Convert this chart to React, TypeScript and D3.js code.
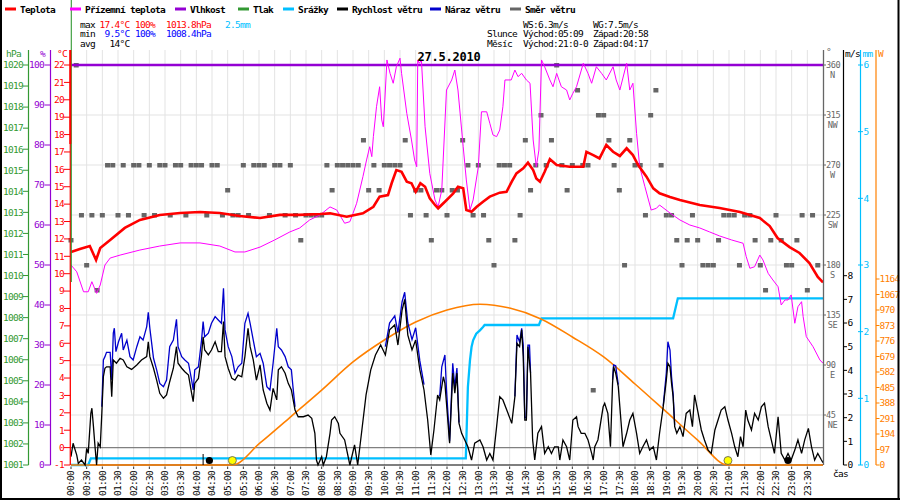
import React from "react";
import * as d3 from "d3";

const FONT = "'DejaVu Sans Mono', 'Liberation Mono', monospace";

// ---------------- data ----------------
const legendLabels = ["Teplota", "Přízemní teplota", "Vlhkost", "Tlak", "Srážky", "Rychlost větru", "Náraz větru", "Směr větru"];
const legendColors = ["#ff0000", "#ff00ff", "#9400d3", "#339933", "#00bfff", "#000000", "#0000cc", "#666666"];

const title = "27.5.2010";
const statRowLabels = ["max", "min", "avg"];
const statMax = ["17.4°C", "100%", "1013.8hPa", "2.5mm"];
const statMin = ["9.5°C", "100%", "1008.4hPa"];
const statAvg = ["14°C"];
const windInfo = ["WS:6.3m/s", "WG:7.5m/s"];
const sunInfo = ["Slunce", "Východ:05:09", "Západ:20:58"];
const moonInfo = ["Měsíc", "Východ:21:0-0", "Západ:04:17"];

// temperature [minute of day, °C]
const tempSeries: [number, number][] = [
  [0, 11.25], [17, 11.42], [36, 11.59], [48, 10.79], [56, 11.48], [75, 11.94], [103, 12.63], [132, 13.09], [170, 13.38], [209, 13.49],
  [247, 13.55], [285, 13.49], [323, 13.32], [362, 13.2], [400, 13.38], [438, 13.38], [477, 13.43], [496, 13.47], [528, 13.28], [559, 13.47],
  [579, 13.85], [591, 14.43], [607, 14.52], [614, 15.2], [623, 15.96], [633, 15.86], [643, 15.29], [652, 15.2], [660, 14.71], [669, 15.2],
  [678, 15.0], [687, 14.33], [697, 13.95], [703, 13.76], [716, 14.14], [732, 14.62], [741, 15.0], [751, 14.91], [757, 13.66], [767, 13.56],
  [777, 13.85], [789, 14.14], [802, 14.43], [821, 14.66], [834, 14.71], [844, 15.29], [853, 15.77], [866, 16.06], [875, 16.38], [885, 15.96],
  [891, 15.48], [898, 15.29], [907, 15.86], [917, 16.58], [930, 16.25], [955, 16.15], [981, 16.15], [987, 17.01], [1000, 16.82], [1012, 16.63],
  [1025, 17.4], [1038, 17.01], [1051, 16.77], [1064, 17.21], [1076, 16.82], [1086, 16.25], [1102, 15.58], [1115, 14.91], [1127, 14.62], [1147, 14.41],
  [1166, 14.24], [1204, 13.95], [1242, 13.78], [1281, 13.55], [1319, 13.2], [1338, 12.74], [1353, 12.05], [1376, 11.53], [1395, 11.19], [1414, 10.61],
  [1430, 9.81], [1440, 9.5],
];

// ground temperature [minute, °C]
const groundSeries: [number, number][] = [
  [0, 10.5], [11, 10.11], [24, 8.96], [33, 8.96], [40, 9.54], [49, 8.87], [56, 9.35], [65, 10.5], [75, 10.9], [94, 11.07],
  [132, 11.36], [170, 11.59], [209, 11.77], [247, 11.77], [285, 11.59], [314, 11.25], [333, 11.25], [362, 11.53], [390, 11.94], [419, 12.4],
  [438, 12.63], [457, 13.09], [477, 13.38], [496, 13.84], [509, 13.66], [524, 12.9], [534, 12.99], [540, 13.47], [547, 14.05], [559, 15.58],
  [566, 16.54], [572, 17.3], [576, 16.73], [579, 17.88], [585, 19.6], [591, 20.75], [595, 18.84], [598, 18.45], [601, 19.99], [605, 22.29],
  [611, 21.52], [617, 20.95], [623, 21.9], [630, 22.39], [633, 21.52], [643, 19.22], [652, 17.69], [658, 16.54], [662, 16.15], [664, 22.29],
  [667, 22.1], [671, 22.29], [678, 18.45], [687, 15.77], [697, 14.24], [703, 13.85], [710, 14.81], [719, 20.56], [729, 21.14], [735, 21.71],
  [741, 20.56], [751, 17.3], [757, 15.39], [764, 13.66], [770, 14.24], [780, 16.15], [786, 19.31], [796, 19.31], [802, 18.65], [808, 17.98],
  [815, 17.88], [821, 18.26], [827, 19.6], [831, 21.14], [843, 21.14], [850, 21.71], [856, 21.33], [863, 21.52], [872, 21.14], [879, 20.95],
  [885, 17.69], [891, 16.15], [896, 17.11], [901, 22.29], [907, 21.9], [917, 21.14], [923, 20.75], [930, 21.52], [939, 20.75], [949, 20.56],
  [955, 19.99], [961, 20.37], [968, 20.75], [981, 22.1], [990, 21.52], [997, 20.95], [1006, 21.9], [1016, 21.52], [1025, 21.14], [1038, 21.9],
  [1044, 21.14], [1051, 20.56], [1064, 22.1], [1070, 20.56], [1076, 20.95], [1083, 18.07], [1089, 16.15], [1099, 15.0], [1111, 13.66], [1121, 13.76],
  [1127, 13.95], [1147, 13.49], [1166, 13.09], [1185, 12.8], [1204, 12.63], [1223, 12.4], [1242, 12.17], [1265, 11.94], [1287, 11.75], [1293, 10.98],
  [1300, 10.31], [1309, 10.4], [1319, 11.07], [1325, 10.79], [1335, 10.02], [1344, 9.64], [1354, 9.25], [1360, 8.2], [1367, 8.49], [1373, 8.49],
  [1379, 8.78], [1386, 7.15], [1392, 8.1], [1399, 8.39], [1402, 7.53], [1408, 6.38], [1421, 5.8], [1434, 5.04], [1440, 4.85],
];

// humidity [minute, %]
const humiditySeries: [number, number][] = [[0, 100], [360, 100], [720, 100], [1080, 100], [1440, 100]];

// cumulative precipitation [minute, mm]
const rainSeries: [number, number][] = [
  [0, 0], [33, 0], [38, 0.1], [756, 0.1], [757, 0.35], [760, 1.17], [764, 1.57], [767, 1.77], [770, 1.87], [776, 1.97],
  [783, 2.02], [789, 2.07], [792, 2.1], [896, 2.1], [901, 2.2], [1153, 2.2], [1162, 2.5], [1440, 2.5],
];

// sun power [minute, W/m2]
const sunSeries: [number, number][] = [
  [0, 0], [309, 0], [362, 138], [420, 300], [480, 469], [540, 645], [600, 782], [660, 895], [720, 970], [783, 1006],
  [840, 982], [900, 914], [960, 801], [1020, 676], [1080, 507], [1140, 332], [1200, 156], [1258, 0], [1440, 0],
];

// wind speed [minute, m/s]
const windSeries: [number, number][] = [
  [0, 0.35], [4, 0.92], [11, 0.42], [14, 0.07], [20, 0.21], [27, 0], [30, 0.7], [33, 0.49], [38, 2.18], [40, 2.4],
  [43, 1.62], [46, 0.77], [49, 0], [52, 0.92], [56, 0.77], [59, 2.18], [62, 3.73], [65, 4.09], [68, 4.15], [75, 4.15],
  [78, 2.89], [81, 4.44], [87, 4.3], [94, 4.51], [100, 4.44], [107, 4.15], [116, 4.04], [126, 4.23], [135, 4.44], [145, 4.58],
  [148, 5.21], [151, 4.58], [158, 4.09], [164, 3.59], [170, 3.03], [177, 2.82], [183, 2.96], [189, 3.52], [196, 4.09], [202, 5.0],
  [205, 4.3], [212, 4.09], [218, 3.94], [225, 3.8], [231, 3.03], [234, 2.68], [237, 3.45], [244, 3.66], [250, 4.65], [253, 5.42],
  [256, 4.86], [263, 4.65], [269, 4.86], [276, 5.21], [282, 4.79], [288, 4.79], [292, 6.06], [295, 4.58], [301, 4.09], [308, 3.66],
  [314, 3.59], [320, 3.8], [327, 3.73], [333, 4.58], [339, 5.78], [343, 5.0], [349, 4.44], [355, 3.59], [362, 4.23], [368, 3.17],
  [375, 2.61], [381, 2.32], [387, 3.24], [394, 2.75], [397, 4.02], [403, 4.15], [410, 3.88], [416, 3.45], [422, 3.17], [429, 2.32],
  [435, 2.04], [445, 2.04], [454, 2.11], [461, 1.97], [467, 1.34], [470, 0.21], [473, 0], [480, 0.35], [483, 0], [489, 0.35],
  [496, 1.34], [499, 1.9], [505, 2.04], [512, 1.76], [515, 1.34], [524, 1.06], [534, 0], [543, 0.85], [549, 0], [557, 1.48],
  [565, 2.96], [574, 4.02], [583, 4.65], [593, 5.07], [602, 4.65], [610, 5.71], [620, 5.92], [626, 5.07], [634, 6.55], [639, 7.0],
  [645, 5.49], [653, 4.86], [660, 5.28], [668, 4.02], [676, 3.17], [683, 1.9], [689, 0.42], [695, 1.48], [702, 2.96], [706, 2.75],
  [713, 3.73], [716, 3.45], [719, 2.61], [725, 0.92], [731, 3.88], [735, 3.03], [739, 3.88], [743, 1.76], [748, 1.34], [754, 1.06],
  [760, 0.77], [767, 0.21], [773, 0.92], [783, 1.06], [789, 0.77], [796, 0.21], [802, 0.49], [808, 0.21], [815, 1.62], [821, 2.89],
  [827, 2.75], [837, 2.18], [844, 1.76], [850, 2.89], [854, 5.14], [859, 5.0], [863, 5.71], [866, 4.58], [869, 1.9], [872, 1.9],
  [875, 5.0], [880, 3.88], [884, 1.06], [888, 0.21], [894, 1.34], [901, 1.62], [907, 0.49], [914, 0.77], [920, 0.49], [926, 0.77],
  [933, 0.77], [936, 0.21], [942, 1.06], [949, 0.77], [955, 0.21], [961, 1.9], [968, 2.04], [971, 1.62], [977, 1.34], [984, 1.34],
  [990, 1.06], [997, 0.49], [1000, 0.21], [1003, 0.77], [1009, 1.06], [1013, 1.62], [1019, 2.46], [1022, 2.61], [1028, 2.18], [1033, 0.77],
  [1037, 3.45], [1039, 4.15], [1043, 3.88], [1048, 3.31], [1051, 2.46], [1057, 0.77], [1064, 1.34], [1070, 1.9], [1076, 2.18], [1083, 1.34],
  [1089, 0.49], [1095, 0.77], [1102, 1.06], [1108, 0.63], [1115, 0.77], [1121, 0.21], [1127, 1.34], [1134, 2.46], [1140, 3.59], [1143, 4.3],
  [1147, 4.15], [1150, 3.45], [1153, 2.89], [1156, 1.62], [1160, 1.34], [1166, 1.62], [1172, 1.2], [1178, 2.18], [1185, 2.32], [1190, 1.62],
  [1194, 2.96], [1201, 2.18], [1207, 1.48], [1213, 1.06], [1220, 0.63], [1226, 0.49], [1233, 1.48], [1239, 1.9], [1245, 2.32], [1252, 2.46],
  [1258, 1.9], [1265, 1.34], [1271, 0.77], [1277, 0.35], [1282, 1.2], [1287, 0.77], [1292, 2.32], [1296, 1.9], [1303, 1.48], [1309, 2.18],
  [1316, 1.9], [1322, 2.46], [1328, 2.61], [1335, 1.62], [1341, 1.06], [1347, 0.49], [1354, 2.04], [1360, 0.49], [1367, 0.21], [1373, 0.49],
  [1379, 0.21], [1386, 0.63], [1392, 1.06], [1399, 0.49], [1405, 1.06], [1412, 1.55], [1418, 0.77], [1424, 0.21], [1430, 0.49], [1437, 0.21],
  [1440, 0.1],
];

// wind gust [minute, m/s]; null separates segments where gust equals wind
const gustSeries: [number, number | null][] = [
  [59, 2.46], [62, 4.44], [65, 4.58], [68, 4.76], [75, 4.76], [78, 3.59], [81, 5.57], [83, 5.78], [86, 4.79], [91, 5.21],
  [97, 5.57], [100, 4.86], [107, 5.28], [113, 4.58], [119, 4.44], [126, 5.0], [132, 5.42], [138, 5.28], [145, 5.85], [148, 6.45],
  [151, 5.78], [158, 4.51], [164, 4.02], [170, 3.45], [177, 3.31], [183, 3.59], [189, 5.0], [196, 5.28], [202, 6.16], [205, 5.0],
  [212, 4.58], [218, 4.44], [225, 4.3], [231, 3.59], [234, 3.17], [237, 4.02], [244, 4.15], [250, 5.28], [253, 6.06], [256, 5.42],
  [263, 5.57], [269, 5.99], [276, 6.27], [282, 6.13], [288, 5.99], [292, 7.47], [295, 5.71], [301, 5.0], [308, 4.58], [314, 3.88],
  [320, 4.15], [327, 4.3], [333, 5.99], [339, 6.41], [343, 5.99], [349, 5.28], [355, 4.58], [362, 4.72], [368, 4.3], [375, 3.31],
  [381, 3.17], [387, 4.3], [394, 5.78], [397, 5.0], [403, 4.86], [410, 4.58], [416, 4.15], [422, 4.02], [425, 3.31], [429, 2.46],
  [430, null],
  [602, 5.0], [610, 6.0], [620, 6.3], [626, 5.6], [634, 6.9], [639, 7.3], [645, 6.0], [653, 5.3], [660, 5.8], [668, 4.4], [676, 3.4],
  [677, null],
  [706, 2.9], [710, 4.15], [716, 4.65], [719, 3.2], [725, 1.0], [731, 4.3], [735, 3.3], [739, 4.1], [743, 1.8],
  [744, null],
  [850, 2.9], [854, 5.49], [859, 5.2], [863, 5.78], [866, 5.07], [869, 2.0], [872, 2.0], [875, 5.07], [878, 5.07], [880, 3.9],
  [881, null],
  [1037, 3.6], [1039, 4.23], [1043, 4.2], [1048, 3.4],
  [1049, null],
  [1134, 2.5], [1140, 3.9], [1143, 5.21], [1147, 4.86], [1150, 3.73], [1153, 3.0], [1156, 1.7],
];

// wind direction every 10 minutes, degrees
const dirValues = [
  202.5, 360, 225, 180, 225, 157.5, 225, 270, 270, 225, 270, 225, 270, 270, 225, 270, 225, 270, 270, 225,
  270, 270, 225, 270, 270, 270, 225, 270, 270, 225, 247.5, 225, 225, 270, 225, 270, 270, 270, 225, 270,
  270, 225, 270, 225, 202.5, 225, 225, 225, 225, 270, 247.5, 270, 270, 270, 270, 270, 292.5, 247.5, 270, 247.5,
  270, 270, 270, 270, 292.5, 225, 247.5, 247.5, 225, 202.5, 247.5, 247.5, 225, 247.5, 247.5, 292.5, 270, 225, 270, 225,
  202.5, 180, 270, 270, 270, 202.5, 225, 292.5, 247.5, 270, 315, 270, 292.5, 360, 270, 247.5, 270, 337.5, 270, 270,
  67.5, 315, 315, 292.5, 270, 247.5, 180, 292.5, 270, 270, 225, 315, 337.5, 270, 225, 225, 202.5, 180, 202.5, 225,
  202.5, 180, 180, 180, 202.5, 225, 225, 225, 180, 225, 225, 202.5, 180, 157.5, 202.5, 225, 202.5, 180, 180, 202.5,
  225, 157.5, 225, 180,
];
const dirStep = 10;

const sunEvents = [309, 1258];
const moonEvents = [265, 1373];
const moonTick = [253];

const hPaTicks = d3.range(1001, 1021);
const humTicks = d3.range(0, 101, 10);
const tempTicks = d3.range(-1, 23);
const dirTicks = [45, 90, 135, 180, 225, 270, 315, 360];
const dirNames = ["NE", "E", "SE", "S", "SW", "W", "NW", "N"];
const windTicks = d3.range(0, 9);
const rainTicks = d3.range(0, 7);
const sunTicks = [0, 97, 194, 291, 388, 485, 582, 679, 776, 873, 970, 1067, 1164];
const timeTicks = d3.range(0, 1440, 30);

// ---------------- layout ----------------
const X0 = 71, X1 = 823, YT = 65, YB = 465, YA = 50;

const x = d3.scaleLinear().domain([0, 1440]).range([X0, X1]);
const yT = d3.scaleLinear().domain([-1, 22]).range([YB, YT]);
const yHum = d3.scaleLinear().domain([0, 100]).range([YB, YT]);
const yP = d3.scaleLinear().domain([1001, 1020]).range([YB, YT]);
const yDir = d3.scaleLinear().domain([0, 360]).range([YB, YT]);
const yWind = d3.scaleLinear().domain([0, 8]).range([YB, 275.7]);
const yRain = d3.scaleLinear().domain([0, 6]).range([YB, YT]);
const ySun = d3.scaleLinear().domain([0, 1164]).range([YB, 279]);

const pad = (n: number) => String(n).padStart(2, "0");
const fmtTime = (m: number) => `${pad(Math.floor(m / 60))}:${pad(m % 60)}`;

function mkLine(ys: d3.ScaleLinear<number, number>, curve: d3.CurveFactory = d3.curveLinear) {
  return d3
    .line<[number, number | null]>()
    .defined((d) => d[1] != null)
    .x((d) => x(d[0]))
    .y((d) => ys(d[1] as number))
    .curve(curve);
}

const legendX = [5, 70, 175, 238, 283, 337, 430, 510];

const txt: React.CSSProperties = { fontFamily: FONT, fontSize: 9.5, letterSpacing: -0.72 };
const txtSmall: React.CSSProperties = { fontFamily: FONT, fontSize: 8.6, letterSpacing: -0.4 };

export default function App() {
  const gridX = timeTicks.filter((t) => t > 0);
  const gridY = [45, 90, 135, 180, 225, 270, 315];
  return (
    <div style={{ position: "absolute", left: 0, top: 0 }}>
      <svg width={900} height={500} style={{ display: "block", background: "#fff" }}>
        <rect x={0} y={0} width={900} height={500} fill="#fff" />
        {/* grid */}
        {gridX.map((t) => (
          <line key={"gx" + t} x1={x(t)} x2={x(t)} y1={YA} y2={YB} stroke="#e3e3e3" strokeWidth={1} />
        ))}
        {gridY.map((d) => (
          <line key={"gy" + d} x1={X0} x2={X1} y1={yDir(d)} y2={yDir(d)} stroke="#e3e3e3" strokeWidth={1} />
        ))}
        {/* x ticks */}
        {timeTicks.map((t) => (
          <line key={"xt" + t} x1={x(t)} x2={x(t)} y1={466.5} y2={469} stroke="#333" strokeWidth={1} />
        ))}
        {/* direction squares */}
        {dirValues.map((d, i) => (
          <rect key={"d" + i} x={x(i * dirStep) - 2.5} y={yDir(d) - 2} width={5} height={4.5} fill="#666" />
        ))}
        {/* zero line and base line */}
        <line x1={X0} x2={X1} y1={yT(0)} y2={yT(0)} stroke="#808080" strokeWidth={1.2} />
        <line x1={X0} x2={X1} y1={YB} y2={YB} stroke="#000" strokeWidth={1.2} />
        {/* humidity */}
        <path d={mkLine(yHum)(humiditySeries) || ""} fill="none" stroke="#9400d3" strokeWidth={2.5} />
        {/* rain */}
        <path d={mkLine(yRain)(rainSeries) || ""} fill="none" stroke="#00bfff" strokeWidth={2.3} />
        {/* sun */}
        <path d={mkLine(ySun, d3.curveMonotoneX)(sunSeries) || ""} fill="none" stroke="#ff8000" strokeWidth={1.6} />
        {/* gust */}
        <path d={mkLine(yWind)(gustSeries) || ""} fill="none" stroke="#0000cc" strokeWidth={1.3} />
        {/* wind */}
        <path d={mkLine(yWind)(windSeries) || ""} fill="none" stroke="#000" strokeWidth={1.3} />
        {/* ground temperature */}
        <path d={mkLine(yT)(groundSeries) || ""} fill="none" stroke="#ff00ff" strokeWidth={1} />
        {/* temperature */}
        <path d={mkLine(yT)(tempSeries) || ""} fill="none" stroke="#ff0000" strokeWidth={2.6} />
        {/* sun / moon markers */}
        {moonTick.map((t) => (
          <line key={"mt" + t} x1={x(t)} x2={x(t)} y1={454} y2={465} stroke="#000" strokeWidth={1} />
        ))}
        {moonEvents.map((t) => (
          <circle key={"m" + t} cx={x(t)} cy={460.5} r={3.6} fill="#000" />
        ))}
        {sunEvents.map((t) => (
          <circle key={"s" + t} cx={x(t)} cy={460.5} r={4} fill="#ffff00" stroke="#555" strokeWidth={0.8} />
        ))}

        {/* left axes */}
        <line x1={28.5} x2={28.5} y1={YA} y2={YB} stroke="#339933" strokeWidth={1.2} />
        <line x1={50.5} x2={50.5} y1={YA} y2={YB} stroke="#9400d3" strokeWidth={1.2} />
        <line x1={70.3} x2={70.3} y1={YA} y2={YB} stroke="#ff0000" strokeWidth={1.3} />
        <line x1={71.3} x2={71.3} y1={0} y2={282} stroke="#339933" strokeWidth={1.1} />
        <line x1={70.3} x2={70.3} y1={YA} y2={144} stroke="#ff0000" strokeWidth={2} />
        <text x={6} y={57} fill="#339933" style={txt}>hPa</text>
        <text x={40} y={57} fill="#9400d3" style={txt}>%</text>
        <text x={57} y={57} fill="#ff0000" style={txt}>°C</text>
        {hPaTicks.map((v) => (
          <g key={"hp" + v}>
            <line x1={23} x2={28.5} y1={yP(v)} y2={yP(v)} stroke="#339933" />
            <text x={23} y={yP(v)} dy="0.35em" textAnchor="end" fill="#339933" style={txt}>{v}</text>
          </g>
        ))}
        {humTicks.map((v) => (
          <g key={"hu" + v}>
            <line x1={44.5} x2={50.5} y1={yHum(v)} y2={yHum(v)} stroke="#9400d3" />
            <text x={44} y={yHum(v)} dy="0.35em" textAnchor="end" fill="#9400d3" style={txt}>{v}</text>
          </g>
        ))}
        {tempTicks.map((v) => (
          <g key={"te" + v}>
            <line x1={64} x2={70.3} y1={yT(v)} y2={yT(v)} stroke="#ff0000" />
            <text x={64} y={yT(v)} dy="0.35em" textAnchor="end" fill="#ff0000" style={txt}>{v}</text>
          </g>
        ))}

        {/* right axes */}
        <line x1={823.5} x2={823.5} y1={YA} y2={YB} stroke="#666" strokeWidth={1.3} />
        <line x1={843.5} x2={843.5} y1={YA} y2={YB} stroke="#000" strokeWidth={1.2} />
        <line x1={860.5} x2={860.5} y1={YA} y2={YB} stroke="#00bfff" strokeWidth={1.2} />
        <line x1={876} x2={876} y1={YA} y2={YB} stroke="#ff8000" strokeWidth={1.2} />
        <text x={826} y={55} fill="#666" style={txt}>°</text>
        <text x={845} y={57} fill="#000" style={txt}>m/s</text>
        <text x={862.5} y={57} fill="#00bfff" style={txt}>mm</text>
        <text x={878} y={57} fill="#ff8000" style={txt}>W</text>
        {dirTicks.map((v, i) => (
          <g key={"di" + v}>
            <line x1={823.5} x2={826} y1={yDir(v)} y2={yDir(v)} stroke="#666" />
            <text x={826} y={yDir(v) - 0.5} dy="0.35em" fill="#666" style={txtSmall}>{v}</text>
            <text x={832.5} y={yDir(v) + 9.5} dy="0.35em" textAnchor="middle" fill="#666" style={txtSmall}>{dirNames[i]}</text>
          </g>
        ))}
        {windTicks.map((v) => (
          <g key={"wi" + v}>
            <line x1={843.5} x2={847} y1={yWind(v)} y2={yWind(v)} stroke="#000" />
            <text x={847.5} y={yWind(v)} dy="0.35em" fill="#000" style={txt}>{v}</text>
          </g>
        ))}
        {rainTicks.map((v) => (
          <g key={"ra" + v}>
            <line x1={858} x2={863} y1={yRain(v)} y2={yRain(v)} stroke="#00bfff" />
            <text x={863.5} y={yRain(v)} dy="0.35em" fill="#00bfff" style={txt}>{v}</text>
          </g>
        ))}
        {sunTicks.map((v) => (
          <g key={"su" + v}>
            <line x1={876} x2={879.5} y1={ySun(v)} y2={ySun(v)} stroke="#ff8000" />
            <text x={879.5} y={ySun(v)} dy="0.35em" fill="#ff8000" style={txt}>{v}</text>
          </g>
        ))}
        <text x={833} y={477} fill="#000" style={txt}>čas</text>

        {/* time labels */}
        {timeTicks.map((t) => (
          <text key={"tl" + t} transform={`translate(${x(t)},471) rotate(-90)`} textAnchor="end" dy="0.35em" fill="#000" style={txt}>
            {fmtTime(t)}
          </text>
        ))}

        {/* legend */}
        {legendLabels.map((l, i) => (
          <g key={"lg" + i}>
            <line x1={legendX[i]} x2={legendX[i] + 11} y1={9} y2={9} stroke={legendColors[i]} strokeWidth={3} />
            <text x={legendX[i] + 15} y={12.5} fill="#000" style={{ ...txt, fontWeight: 600 }}>{l}</text>
          </g>
        ))}

        {/* stats */}
        {statRowLabels.map((l, i) => (
          <text key={"sr" + i} x={80} y={27.5 + i * 9.6} fill="#000" style={txt}>{l}</text>
        ))}
        <text x={129.5} y={27.5} textAnchor="end" fill="#ff0000" style={txt}>{statMax[0]}</text>
        <text x={135} y={27.5} fill="#ff0000" style={txt}>{statMax[1]}</text>
        <text x={166} y={27.5} fill="#ff0000" style={txt}>{statMax[2]}</text>
        <text x={225} y={27.5} fill="#00bfff" style={txt}>{statMax[3]}</text>
        <text x={129.5} y={37.1} textAnchor="end" fill="#0000ff" style={txt}>{statMin[0]}</text>
        <text x={135} y={37.1} fill="#0000ff" style={txt}>{statMin[1]}</text>
        <text x={166} y={37.1} fill="#0000ff" style={txt}>{statMin[2]}</text>
        <text x={129.5} y={46.7} textAnchor="end" fill="#000" style={txt}>{statAvg[0]}</text>

        <text x={523} y={27.5} fill="#000" style={txt}>{windInfo[0]}</text>
        <text x={593} y={27.5} fill="#000" style={txt}>{windInfo[1]}</text>
        <text x={487} y={37.1} fill="#000" style={txt}>{sunInfo[0]}</text>
        <text x={523} y={37.1} fill="#000" style={txt}>{sunInfo[1]}</text>
        <text x={593} y={37.1} fill="#000" style={txt}>{sunInfo[2]}</text>
        <text x={487} y={46.7} fill="#000" style={txt}>{moonInfo[0]}</text>
        <text x={523} y={46.7} fill="#000" style={txt}>{moonInfo[1]}</text>
        <text x={593} y={46.7} fill="#000" style={txt}>{moonInfo[2]}</text>

        <text x={449} y={61} textAnchor="middle" fill="#000" style={{ fontFamily: FONT, fontSize: 12, fontWeight: 700, letterSpacing: -0.2 }}>{title}</text>

        {/* frame */}
        <line x1={1} x2={1} y1={0} y2={500} stroke="#000" strokeWidth={2} />
        <line x1={898.5} x2={898.5} y1={0} y2={500} stroke="#000" strokeWidth={2} />
        <line x1={0} x2={900} y1={499} y2={499} stroke="#000" strokeWidth={2} />
      </svg>
    </div>
  );
}
